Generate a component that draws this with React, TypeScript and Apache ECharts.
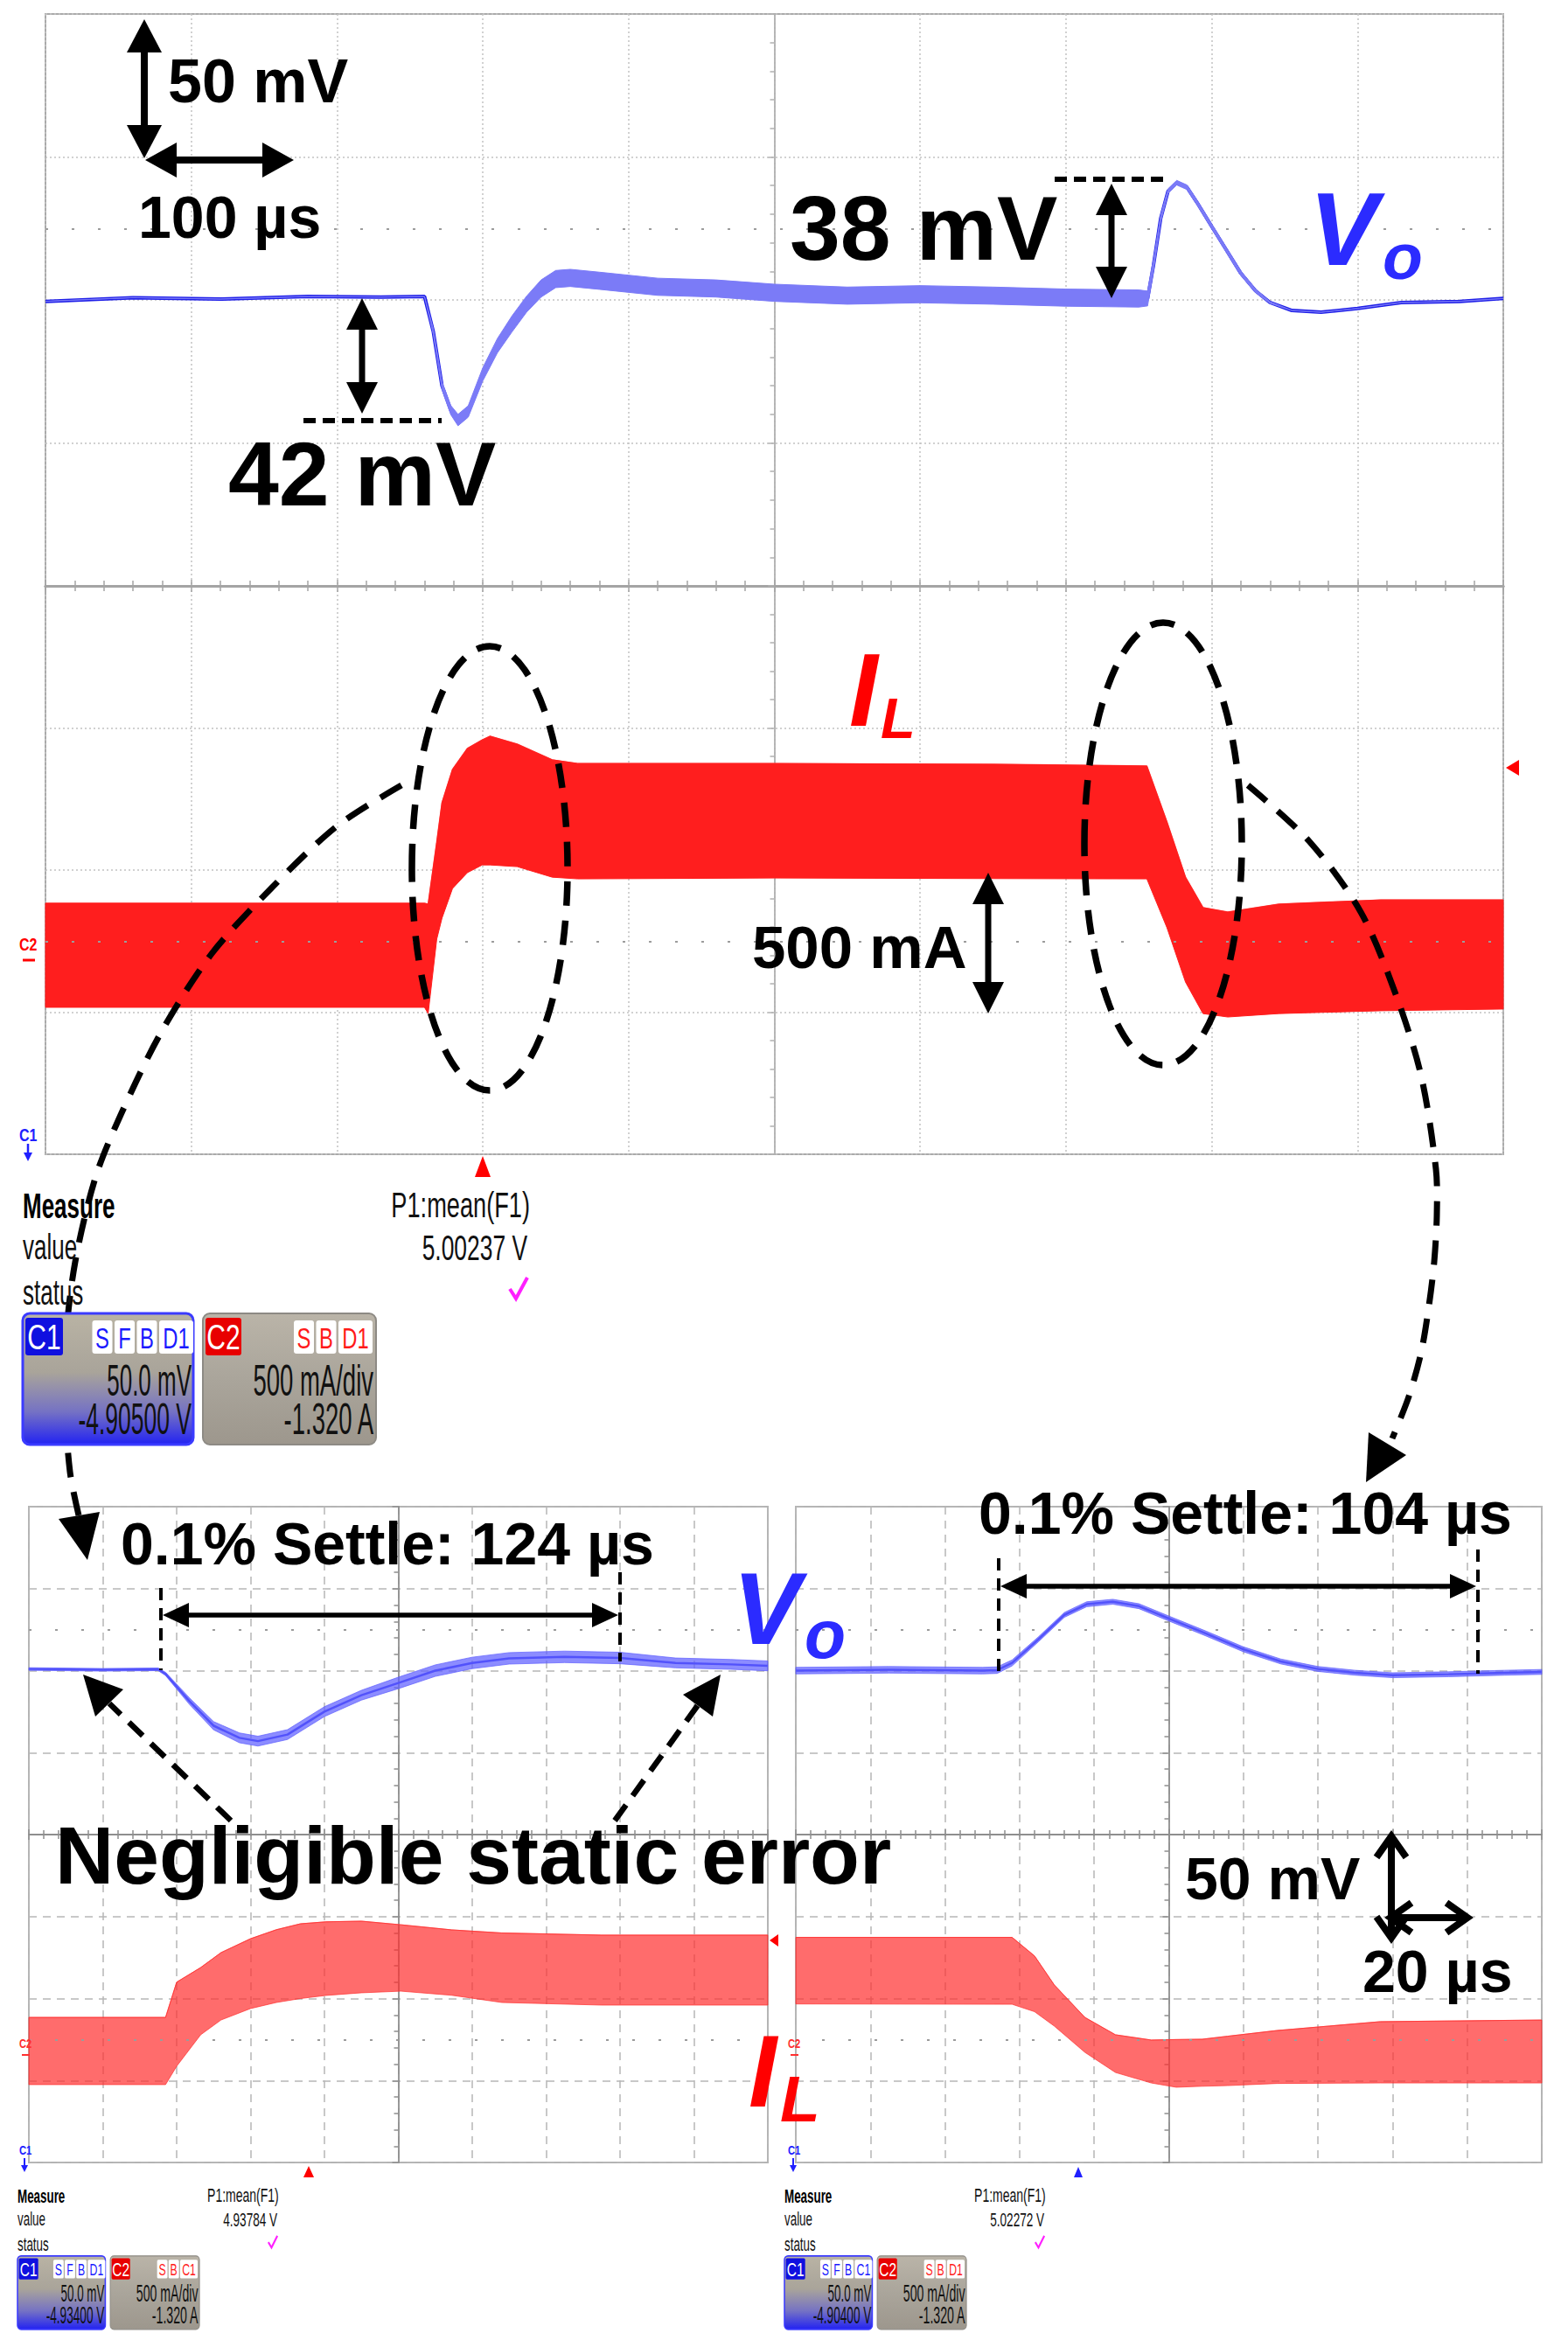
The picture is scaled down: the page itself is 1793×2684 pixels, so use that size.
import React, { useEffect, useRef } from 'react';
import * as echarts from 'echarts';

// ================= DATA =================
// Main scope: time in µs (100 µs/div, 0 = screen centre), Vo deviation in mV (50 mV/div), IL in A (0.5 A/div)
const mainT = [-500, -440, -380, -320, -270, -240, -234, -228, -222, -217, -210, -200, -190, -180, -170, -160, -150, -140, -120, -80, -40, 0, 50, 100, 150, 200, 250, 256, 260, 265, 270, 276, 283, 290, 300, 310, 320, 330, 340, 355, 375, 400, 430, 470, 500];
const mainVo = [-0.5, 0.8, 0.3, 1.2, 1.0, 1.2, -11, -30, -38.5, -42, -39, -26, -16, -8.4, -1.5, 4, 7.3, 7.7, 6.7, 4.6, 4, 2.5, 1.5, 2, 1.5, 0.8, 0.5, 0.5, 12, 28.5, 38, 41, 39.4, 34, 25.7, 17.5, 9.3, 3.2, -0.9, -3.7, -4.3, -3, -0.9, -0.5, 0.5];
const mainVoSpread = [0, 0, 0, 0, 0, 0, 1, 1.3, 1.6, 2, 2, 2.3, 2.5, 2.8, 2.8, 3, 3, 3, 3, 3, 3, 3, 3, 3, 3, 3, 3, 2.6, 2, 1.2, 0.8, 0.8, 0.8, 0.8, 0.8, 0.8, 0.8, 0.6, 0.3, 0, 0, 0, 0, 0, 0];
const mainIlT = [-500, -240, -237.5, -231.6, -228, -220.8, -210.6, -200.4, -195, -176.4, -152.4, -135, 0, 150, 255.5, 269.3, 282, 294, 311, 346, 416, 500];
const mainIlHi = [0.883, 0.883, 0.880, 1.098, 1.237, 1.354, 1.428, 1.458, 1.471, 1.443, 1.388, 1.375, 1.375, 1.372, 1.366, 1.169, 0.975, 0.868, 0.852, 0.880, 0.895, 0.895];
const mainIlLo = [0.517, 0.517, 0.495, 0.757, 0.831, 0.935, 0.991, 1.018, 1.018, 1.012, 0.975, 0.969, 0.972, 0.970, 0.969, 0.797, 0.606, 0.495, 0.483, 0.495, 0.505, 0.511];

// Left zoomed scope (20 µs/div)
const leftT = [-100, -80, -65, -63, -56.5, -50, -43, -38, -30, -20, -10, 0, 10, 20, 30, 45, 60, 75, 90, 100];
const leftVo = [1, 0.5, 0.8, -2, -18.7, -33.6, -41, -43, -39, -25, -15, -7.5, 0, 4.7, 7.5, 8.4, 7.7, 4.7, 3.8, 2.9];
const leftVoSpread = [0.8, 0.8, 0.8, 1, 2, 2.5, 3, 3, 3, 3, 3, 3.5, 3.5, 3.5, 3.5, 3.5, 3.5, 3, 3, 3];
const leftIlT = [-100, -63, -60, -53.5, -48, -40, -33, -26.5, -19.6, -10, 0.7, 14.4, 28, 55, 100];
const leftIlHi = [0.885, 0.885, 1.10, 1.189, 1.28, 1.365, 1.42, 1.456, 1.468, 1.472, 1.45, 1.419, 1.40, 1.387, 1.387];
const leftIlLo = [0.475, 0.475, 0.587, 0.779, 0.869, 0.939, 0.976, 1.0, 1.019, 1.035, 1.045, 1.02, 0.976, 0.96, 0.96];

// Right zoomed scope (20 µs/div)
const rightT = [-100, -75, -50, -46, -42, -35, -28, -22, -15, -8, 0, 10, 20, 30, 40, 50, 60, 75, 90, 100];
const rightVo = [0, 0.5, 0, 0.3, 4.7, 19, 34, 40.5, 42, 39.3, 31.8, 22.6, 13, 5.6, 1, -1.3, -2.8, -2.2, -1.3, -0.8];
const rightVoSpread = [2, 2, 2, 2, 1.8, 1.5, 1.5, 1.5, 1.5, 1.5, 1.5, 1.5, 1.5, 1.5, 1.5, 1.5, 1.5, 1.5, 1.5, 1.5];
const rightIlT = [-100, -42, -36, -30.7, -22.5, -14.3, -4.7, 2, 9, 15.7, 29, 56.7, 100];
const rightIlHi = [1.373, 1.373, 1.26, 1.083, 0.885, 0.779, 0.747, 0.75, 0.752, 0.77, 0.805, 0.859, 0.869];
const rightIlLo = [0.967, 0.965, 0.92, 0.832, 0.672, 0.549, 0.485, 0.459, 0.465, 0.469, 0.482, 0.485, 0.485];

// ================= HELPERS =================
const W = 1793;
const H = 2684;
const FONT = '"Liberation Sans", Arial, Helvetica, sans-serif';
type El = any;

function txt(text: string, x: number, y: number, size: number, o: { color?: string; weight?: string; italic?: boolean; align?: string; sx?: number } = {}): El {
  const align = o.align ?? 'left';
  return {
    type: 'text', x, y, scaleX: o.sx ?? 1, z: 100,
    style: {
      text, x: 0, y: 0, fill: o.color ?? '#000',
      fontSize: size, fontFamily: FONT, fontWeight: o.weight ?? 'bold', fontStyle: o.italic ? 'italic' : 'normal',
      textAlign: align, align, textVerticalAlign: 'middle', verticalAlign: 'middle',
    },
  };
}
function seg(x1: number, y1: number, x2: number, y2: number, w: number, color = '#000', dash?: number[]): El {
  return { type: 'line', z: 100, shape: { x1, y1, x2, y2 }, style: { stroke: color, lineWidth: w, lineDash: dash } };
}
function poly(points: number[][], color = '#000'): El {
  return { type: 'polygon', z: 100, shape: { points }, style: { fill: color } };
}
function pl(points: number[][], w: number, color = '#000', dash?: number[], smooth?: number): El {
  return { type: 'polyline', z: 100, shape: { points, smooth: smooth ?? 0 }, style: { stroke: color, lineWidth: w, fill: 'none', lineDash: dash } };
}
function head(tx: number, ty: number, fx: number, fy: number, len: number, hw: number): number[][] {
  const d = Math.hypot(tx - fx, ty - fy) || 1;
  const ux = (tx - fx) / d, uy = (ty - fy) / d;
  const bx = tx - ux * len, by = ty - uy * len;
  return [[tx, ty], [bx - uy * hw, by + ux * hw], [bx + uy * hw, by - ux * hw]];
}
function dArrow(x1: number, y1: number, x2: number, y2: number, len: number, hw: number, w: number): El[] {
  const d = Math.hypot(x2 - x1, y2 - y1) || 1;
  const ux = (x2 - x1) / d, uy = (y2 - y1) / d;
  return [
    seg(x1 + ux * len * 0.6, y1 + uy * len * 0.6, x2 - ux * len * 0.6, y2 - uy * len * 0.6, w),
    poly(head(x1, y1, x2, y2, len, hw)),
    poly(head(x2, y2, x1, y1, len, hw)),
  ];
}
function openDArrow(x1: number, y1: number, x2: number, y2: number, len: number, hw: number, w: number): El[] {
  const a = head(x1, y1, x2, y2, len, hw);
  const b = head(x2, y2, x1, y1, len, hw);
  return [seg(x1, y1, x2, y2, w), pl([a[1], a[0], a[2]], w), pl([b[1], b[0], b[2]], w)];
}
function dashedEllipse(cx: number, cy: number, rx: number, ry: number): El {
  return { type: 'ellipse', z: 100, shape: { cx, cy, rx, ry }, style: { fill: 'none', stroke: '#000', lineWidth: 7.5, lineDash: [28, 17] } };
}

function measurePanel(x: number, y: number, sx: number, sy: number, p: { p1: string; c1Tags: string[]; c1Scale: string; c1Off: string; c2Tags: string[]; c2Scale: string; c2Off: string }): El {
  const ch: El[] = [];
  ch.push(txt('Measure', 0, 24, 40, { sx: 0.65 }));
  ch.push(txt('value', 0, 71, 40, { sx: 0.65, weight: 'normal', color: '#111' }));
  ch.push(txt('status', 0, 123, 40, { sx: 0.65, weight: 'normal', color: '#111' }));
  ch.push(txt('P1:mean(F1)', 580, 23, 40, { sx: 0.68, weight: 'normal', align: 'right', color: '#111' }));
  ch.push(txt(p.p1, 577, 72, 40, { sx: 0.66, weight: 'normal', align: 'right', color: '#111' }));
  ch.push(pl([[557, 119], [564, 130], [577, 106]], 4, '#ff20ff'));
  const c1Grad = new echarts.graphic.LinearGradient(0, 0, 0, 1, [
    { offset: 0, color: '#b9b3a4' }, { offset: 0.45, color: '#a9a49a' }, { offset: 0.75, color: '#7572c4' }, { offset: 1, color: '#2222f2' },
  ]);
  const c2Grad = new echarts.graphic.LinearGradient(0, 0, 0, 1, [
    { offset: 0, color: '#bab4a8' }, { offset: 0.5, color: '#aaa59b' }, { offset: 1, color: '#9d978d' },
  ]);
  ch.push({ type: 'rect', z: 100, shape: { x: 0, y: 147, width: 195, height: 150, r: 8 }, style: { fill: c1Grad, stroke: '#3b3bff', lineWidth: 3 } });
  ch.push({ type: 'rect', z: 100, shape: { x: 3, y: 152, width: 43, height: 43, r: 3 }, style: { fill: '#1010e0' } });
  ch.push(txt('C1', 24.5, 174, 40, { color: '#fff', weight: 'normal', align: 'center', sx: 0.75 }));
  ch.push({ type: 'rect', z: 100, shape: { x: 206, y: 147, width: 198, height: 150, r: 8 }, style: { fill: c2Grad, stroke: '#8d8a84', lineWidth: 2 } });
  ch.push({ type: 'rect', z: 100, shape: { x: 209, y: 152, width: 41, height: 43, r: 3 }, style: { fill: '#e80000' } });
  ch.push(txt('C2', 229.5, 174, 40, { color: '#fff', weight: 'normal', align: 'center', sx: 0.75 }));
  const tags = (list: string[], right: number, color: string) => {
    let cur = right;
    for (let i = list.length - 1; i >= 0; i--) {
      const w = list[i].length > 1 ? 39 : 23;
      const bx = cur - w;
      ch.push({ type: 'rect', z: 100, shape: { x: bx, y: 155, width: w, height: 38, r: 3 }, style: { fill: '#ffffff' } });
      ch.push(txt(list[i], bx + w / 2, 174.5, 34, { color, weight: 'normal', align: 'center', sx: 0.7 }));
      cur = bx - 2.5;
    }
  };
  tags(p.c1Tags, 195, '#1a1aff');
  tags(p.c2Tags, 400, '#ff1a1a');
  ch.push(txt(p.c1Scale, 193, 223.5, 50, { weight: 'normal', align: 'right', sx: 0.52, color: '#111' }));
  ch.push(txt(p.c1Off, 193, 267.5, 50, { weight: 'normal', align: 'right', sx: 0.53, color: '#111' }));
  ch.push(txt(p.c2Scale, 401, 223.5, 50, { weight: 'normal', align: 'right', sx: 0.55, color: '#111' }));
  ch.push(txt(p.c2Off, 401, 267.5, 50, { weight: 'normal', align: 'right', sx: 0.55, color: '#111' }));
  return { type: 'group', x, y, scaleX: sx, scaleY: sy, children: ch };
}

function bandRenderer(fill: string, count: number) {
  return (params: any, api: any) => {
    if (params.dataIndex !== 0) return null;
    const upper: number[][] = [];
    const lower: number[][] = [];
    for (let k = 0; k < count; k++) {
      const t = api.value(0, k);
      upper.push(api.coord([t, api.value(2, k)]));
      lower.push(api.coord([t, api.value(1, k)]));
    }
    return { type: 'polygon', shape: { points: upper.concat(lower.reverse()) }, style: { fill, stroke: fill, lineWidth: 1 } };
  };
}
function bandSeries(name: string, xi: number, yi: number, T: number[], lo: number[], hi: number[], fill: string): El {
  return {
    type: 'custom', name, xAxisIndex: xi, yAxisIndex: yi,
    data: T.map((t, i) => [t, lo[i], hi[i]]),
    encode: { x: 0, y: [1, 2] },
    renderItem: bandRenderer(fill, T.length), silent: true, z: 3,
  };
}
function rowMark(v: number): El {
  return {
    silent: true, symbol: ['none', 'none'], label: { show: false },
    lineStyle: { color: '#9c9c9c', type: [3, 27], width: 2 }, data: [{ yAxis: v }],
  };
}
function traceLine(name: string, xi: number, yi: number, T: number[], V: number[], color: string, width: number, mark?: El): El {
  return {
    type: 'line', name, xAxisIndex: xi, yAxisIndex: yi, data: T.map((t, i) => [t, V[i]]),
    symbol: 'none', showSymbol: false, lineStyle: { color, width }, itemStyle: { color }, z: 2, silent: true,
    markLine: mark,
  };
}

function buildOption(): El {
  const tickGray = '#a4a4a4';
  const dotted = { color: '#c2c2c2', width: 1.5, type: [2, 3] };
  const dashed = { color: '#b6b6b6', width: 1.5, type: [9, 7] };
  const gridBase = { show: true, borderWidth: 2, backgroundColor: '#ffffff', containLabel: false, outerBoundsMode: 'none' };
  const hidden = { axisLabel: { show: false } };
  const curveDash = [28, 17];

  const mainX = (gridIndex: number, position: string) => ({
    type: 'value', gridIndex, min: -500, max: 500, interval: 100, position, ...hidden,
    axisLine: { show: true, onZero: false, lineStyle: { color: tickGray, width: 3 } },
    axisTick: { show: true, inside: true, length: 7, lineStyle: { color: tickGray, width: 1.5 } },
    minorTick: { show: true, splitNumber: 5, length: 6, lineStyle: { color: tickGray, width: 1.5 } },
    splitLine: { show: true, lineStyle: dotted },
  });
  const subX = (gridIndex: number, inside: boolean, split: boolean) => ({
    type: 'value', gridIndex, min: -100, max: 100, interval: 20, position: 'bottom', offset: -375, ...hidden,
    axisLine: { show: split, onZero: false, lineStyle: { color: '#8e8e8e', width: 2 } },
    axisTick: { show: true, inside, length: 6, lineStyle: { color: '#8e8e8e', width: 1.5 } },
    minorTick: { show: true, splitNumber: 5, length: 5, lineStyle: { color: '#8e8e8e', width: 1.5 } },
    splitLine: { show: split, lineStyle: dashed },
  });
  const valY = (gridIndex: number, min: number, max: number, interval: number, split: El, lineColor: string) => ({
    type: 'value', gridIndex, min, max, interval, ...hidden,
    axisLine: { show: true, onZero: true, lineStyle: { color: lineColor, width: 1.8 } },
    axisTick: { show: true, length: 7, lineStyle: { color: lineColor, width: 1.5 } },
    minorTick: { show: true, splitNumber: 5, length: 5, lineStyle: { color: lineColor, width: 1.5 } },
    splitLine: { show: true, lineStyle: split },
  });
  const ilY = (gridIndex: number, max: number) => ({ type: 'value', gridIndex, min: 0, max, show: false, splitLine: { show: false } });

  const els: El[] = [];
  // ---- main scope annotations ----
  els.push(...dArrow(165, 22, 165, 181, 38, 20, 8));
  els.push(...dArrow(166, 183, 336, 183, 36, 20, 8));
  els.push(txt('50 mV', 192, 93, 70));
  els.push(txt('100 µs', 158, 248, 68));
  els.push(seg(347, 481, 505, 481, 6, '#000', [14, 8]));
  els.push(...dArrow(414, 341, 414, 473, 36, 18, 7));
  els.push(txt('42 mV', 261, 542, 104));
  els.push(seg(1206, 205, 1334, 205, 6, '#000', [14, 8]));
  els.push(...dArrow(1271, 210, 1271, 341, 36, 18, 7));
  els.push(txt('38 mV', 903, 261, 104));
  els.push(txt('V', 1497, 262, 118, { color: '#2b2bff', italic: true }));
  els.push(txt('o', 1581, 293, 75, { color: '#2b2bff', italic: true }));
  els.push(txt('I', 971, 789, 118, { color: '#ff0000', italic: true }));
  els.push(txt('L', 1007, 821, 65, { color: '#ff0000', italic: true }));
  els.push(txt('500 mA', 860, 1083, 69));
  els.push(...dArrow(1130, 998, 1130, 1159, 36, 18, 7));
  els.push(dashedEllipse(560, 993, 89, 254));
  els.push(dashedEllipse(1330, 965, 90, 253));
  els.push(pl([[459, 898], [385, 945], [310, 1016], [241, 1092], [184, 1181], [138, 1275], [109, 1347], [86, 1443], [75, 1533], [74, 1600], [80, 1683], [90, 1733]], 7, '#000', curveDash, 0.3));
  els.push(poly([[67, 1737], [114, 1729], [100, 1784]]));
  els.push(pl([[1427, 898], [1497, 962], [1556, 1043], [1596, 1137], [1625, 1230], [1642, 1337], [1643, 1390], [1640, 1443], [1634, 1493], [1625, 1547], [1611, 1597], [1592, 1645]], 7, '#000', curveDash, 0.3));
  els.push(poly([[1565, 1638], [1608, 1664], [1562, 1695]]));
  // channel / trigger markers
  els.push(txt('C2', 22, 1080, 20, { color: '#ff0000', sx: 0.8 }));
  els.push(seg(26, 1098, 40, 1098, 3, '#ff0000'));
  els.push(txt('C1', 22, 1298, 20, { color: '#2020ff', sx: 0.8 }));
  els.push(seg(32, 1308, 32, 1322, 2.5, '#2020ff'));
  els.push(poly([[27, 1318], [37, 1318], [32, 1328]], '#2020ff'));
  els.push(poly([[552, 1322], [543, 1346], [561, 1346]], '#ff0000'));
  els.push(poly([[1722, 878], [1737, 869], [1737, 887]], '#ff0000'));
  els.push(measurePanel(26, 1355, 1, 1, { p1: '5.00237 V', c1Tags: ['S', 'F', 'B', 'D1'], c1Scale: '50.0 mV', c1Off: '-4.90500 V', c2Tags: ['S', 'B', 'D1'], c2Scale: '500 mA/div', c2Off: '-1.320 A' }));

  // ---- zoomed scopes annotations ----
  els.push(txt('0.1% Settle: 124 µs', 138, 1765, 68));
  els.push(seg(184, 1816, 184, 1910, 4, '#000', [14, 9]));
  els.push(seg(709, 1798, 709, 1900, 4, '#000', [14, 9]));
  els.push(...dArrow(186, 1847, 707, 1847, 30, 14, 5.5));
  els.push(txt('0.1% Settle: 104 µs', 1119, 1730, 68));
  els.push(seg(1142, 1782, 1142, 1914, 4, '#000', [14, 9]));
  els.push(seg(1690, 1772, 1690, 1914, 4, '#000', [14, 9]));
  els.push(...dArrow(1144, 1814, 1688, 1814, 30, 14, 5.5));
  els.push(txt('V', 838, 1840, 116, { color: '#2b2bff', italic: true }));
  els.push(txt('o', 920, 1869, 77, { color: '#2b2bff', italic: true }));
  els.push(txt('Negligible static error', 63, 2122, 93));
  els.push(seg(264, 2082, 125, 1948, 6.5, '#000', [22, 13]));
  els.push(poly([[95, 1915], [141, 1932], [109, 1963]]));
  els.push(seg(703, 2082, 798, 1950, 6.5, '#000', [22, 13]));
  els.push(poly([[824, 1915], [781, 1938], [815, 1963]]));
  els.push(txt('50 mV', 1355, 2148, 68));
  els.push(...openDArrow(1591, 2100, 1591, 2216, 24, 17, 8));
  els.push(...openDArrow(1590, 2193, 1678, 2193, 24, 17, 8));
  els.push(txt('20 µs', 1558, 2254, 68));
  els.push(txt('I', 856, 2369, 116, { color: '#ff0000', italic: true }));
  els.push(txt('L', 892, 2400, 75, { color: '#ff0000', italic: true }));
  for (const gx of [22, 901]) {
    els.push(txt('C2', gx, 2338, 14, { color: '#ff3030', sx: 0.8 }));
    els.push(seg(gx + 3, 2350, gx + 12, 2350, 2, '#ff3030'));
    els.push(txt('C1', gx, 2460, 14, { color: '#2020ff', sx: 0.8 }));
    els.push(seg(gx + 6, 2468, gx + 6, 2478, 2, '#2020ff'));
    els.push(poly([[gx + 2, 2476], [gx + 10, 2476], [gx + 6, 2484]], '#2020ff'));
  }
  els.push(poly([[353, 2477], [347, 2490], [359, 2490]], '#ff0000'));
  els.push(poly([[1233, 2478], [1228, 2490], [1238, 2490]], '#2020ff'));
  els.push(poly([[880, 2219], [890, 2212], [890, 2226]], '#ff0000'));
  els.push(measurePanel(20, 2497.5, 0.515, 0.56, { p1: '4.93784 V', c1Tags: ['S', 'F', 'B', 'D1'], c1Scale: '50.0 mV', c1Off: '-4.93400 V', c2Tags: ['S', 'B', 'C1'], c2Scale: '500 mA/div', c2Off: '-1.320 A' }));
  els.push(measurePanel(897, 2497.5, 0.515, 0.56, { p1: '5.02272 V', c1Tags: ['S', 'F', 'B', 'C1'], c1Scale: '50.0 mV', c1Off: '-4.90400 V', c2Tags: ['S', 'B', 'D1'], c2Scale: '500 mA/div', c2Off: '-1.320 A' }));

  const band = (mid: number[], spr: number[]) => ({ lo: mid.map((v, i) => v - spr[i]), hi: mid.map((v, i) => v + spr[i]) });
  const mb = band(mainVo, mainVoSpread);
  const lb = band(leftVo, leftVoSpread);
  const rb = band(rightVo, rightVoSpread);

  return {
    animation: false,
    backgroundColor: '#ffffff',
    grid: [
      { left: 52, top: 16, width: 1667, height: 654, borderColor: '#aaaaaa', ...gridBase },
      { left: 52, top: 670, width: 1667, height: 650, borderColor: '#aaaaaa', ...gridBase },
      { left: 33, top: 1723, width: 845, height: 750, borderColor: '#b4b4b4', ...gridBase },
      { left: 910, top: 1723, width: 853, height: 750, borderColor: '#b4b4b4', ...gridBase },
    ],
    xAxis: [
      mainX(0, 'bottom'),
      mainX(1, 'top'),
      subX(2, true, true),
      subX(3, true, true),
      subX(2, false, false),
      subX(3, false, false),
    ],
    yAxis: [
      valY(0, -100, 100, 50, dotted, '#b0b0b0'),
      valY(1, 0, 2, 0.5, dotted, '#b0b0b0'),
      valY(2, -300, 100, 50, dashed, '#8e8e8e'),
      ilY(2, 4),
      valY(3, -300, 100, 50, dashed, '#8e8e8e'),
      ilY(3, 4),
    ],
    series: [
      traceLine('Vo', 0, 0, mainT, mainVo, '#1f1fe8', 4, rowMark(25)),
      bandSeries('Vo ripple', 0, 0, mainT, mb.lo, mb.hi, '#7b7bf7'),
      bandSeries('IL', 1, 1, mainIlT, mainIlLo, mainIlHi, '#ff1e1e'),
      traceLine('IL upper', 1, 1, mainIlT, mainIlHi, '#ff5050', 1.5, rowMark(0.75)),

      bandSeries('IL zoom 1', 2, 3, leftIlT, leftIlLo, leftIlHi, 'rgba(255,45,45,0.7)'),
      traceLine('IL zoom 1 upper', 2, 3, leftIlT, leftIlHi, 'rgba(255,90,90,0.8)', 1, rowMark(0.75)),
      traceLine('Vo zoom 1', 2, 2, leftT, leftVo, '#3030f0', 2.5, rowMark(25)),
      bandSeries('Vo zoom 1 ripple', 2, 2, leftT, lb.lo, lb.hi, 'rgba(95,95,255,0.72)'),

      bandSeries('IL zoom 2', 3, 5, rightIlT, rightIlLo, rightIlHi, 'rgba(255,45,45,0.7)'),
      traceLine('IL zoom 2 upper', 3, 5, rightIlT, rightIlHi, 'rgba(255,90,90,0.8)', 1, rowMark(0.75)),
      traceLine('Vo zoom 2', 3, 4, rightT, rightVo, '#3030f0', 2.5, rowMark(25)),
      bandSeries('Vo zoom 2 ripple', 3, 4, rightT, rb.lo, rb.hi, 'rgba(95,95,255,0.72)'),
    ],
    graphic: { elements: els },
  };
}

export default function App() {
  const ref = useRef<HTMLDivElement>(null);
  useEffect(() => {
    document.body.style.margin = '0';
    const el = ref.current;
    if (!el) return;
    const chart = echarts.init(el, null, { renderer: 'svg', width: W, height: H });
    chart.setOption(buildOption());
    return () => chart.dispose();
  }, []);
  return <div ref={ref} style={{ width: W, height: H, background: '#fff' }} />;
}
